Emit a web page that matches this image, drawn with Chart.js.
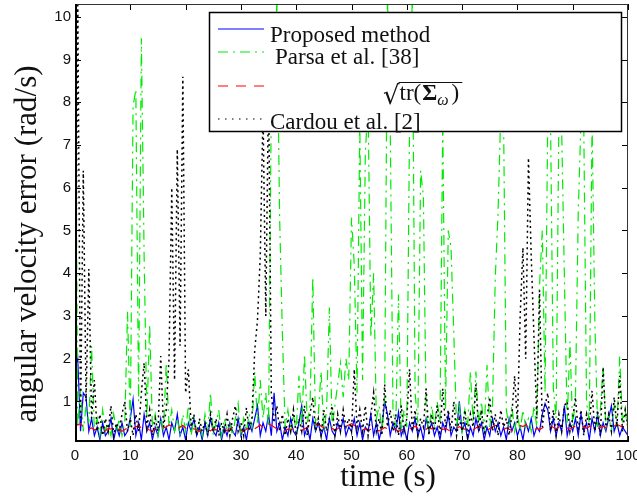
<!DOCTYPE html>
<html>
<head>
<meta charset="utf-8">
<script src="https://cdn.jsdelivr.net/npm/chart.js@4.4.0/dist/chart.umd.min.js"></script>
<style>
  html, body { margin: 0; padding: 0; background: #fff; }
</style>
</head>
<body>
<canvas id="errChart" width="637" height="500"></canvas>
<script>
try {

  // sampling grid of the time axis (s)
  const timeStep = 0.5;
  const times = Array.from({ length: 201 }, (_, i) => i * timeStep);

  // angular velocity error (rad/s), one value per 0.5 s
  const proposedErr = [
    1.7,2.0,0.3,1.2,1.1,0.3,0.6,0.2,0.4,0.1,0.5,0.2,0.3,0.6,0.1,0.4,0.2,0.5,0.2,0.3,
    0.6,1.05,0.2,0.5,0.1,0.7,0.3,0.5,0.1,0.4,0.2,0.6,0.2,0.4,0.1,0.5,0.3,0.7,0.2,0.4,
    0.1,0.5,0.3,0.6,0.2,0.4,0.1,0.5,0.2,0.6,0.3,0.2,0.5,0.1,0.4,0.2,0.5,0.3,0.2,0.6,
    0.2,0.4,0.1,0.5,0.3,0.6,0.9,0.2,0.5,0.3,0.7,0.2,1.2,0.3,0.5,0.1,0.4,0.2,0.6,0.3,
    0.2,0.5,0.9,0.2,0.4,0.1,0.6,0.3,0.5,0.2,0.4,0.1,0.6,0.3,0.2,0.5,0.3,0.6,0.2,0.4,
    0.3,0.6,0.2,0.5,0.1,0.4,0.3,0.7,0.2,0.5,0.1,0.4,1.0,0.7,0.2,0.5,0.3,0.75,0.2,0.4,
    0.1,0.5,0.3,0.6,0.2,0.4,0.1,0.6,0.3,0.5,0.2,0.4,0.1,0.5,0.3,0.7,0.2,0.4,0.3,1.0,
    0.3,0.5,0.1,0.4,0.2,0.6,0.3,0.5,0.1,0.4,0.2,0.6,0.3,0.5,0.2,0.4,0.1,0.6,0.3,0.5,
    0.2,0.4,0.1,0.5,0.3,0.6,0.2,0.4,0.3,0.7,0.95,0.8,0.3,0.6,0.2,0.5,0.3,0.9,0.2,0.5,
    0.3,0.6,0.2,0.7,0.3,0.5,0.1,0.6,0.3,0.7,0.2,0.5,0.3,0.6,0.9,0.3,0.5,0.2,0.4,0.3,
    0.2
  ];

  const parsaErr = [
    10.5,0.4,1.3,0.3,0.9,0.5,2.3,0.3,0.6,0.2,0.8,0.3,0.5,0.2,0.7,0.3,0.6,0.2,0.5,3.1,
    0.4,7.9,8.3,1.0,9.5,4.4,0.6,2.8,0.4,0.7,0.2,0.6,0.3,1.9,0.4,0.8,0.3,0.6,0.2,0.7,
    0.3,0.9,0.2,0.6,0.3,0.5,0.2,0.7,0.3,1.2,0.2,0.5,0.8,0.2,0.6,0.3,0.5,0.2,0.6,0.95,
    0.2,0.6,0.3,0.7,0.4,1.7,0.5,1.5,0.6,1.2,0.4,8.0,7.6,10.5,5.3,2.6,0.4,0.8,0.3,0.7,
    0.3,1.6,0.4,2.1,0.5,0.9,3.9,0.4,0.7,1.7,0.3,0.8,3.2,0.4,0.9,1.4,1.9,1.1,2.0,1.5,
    5.3,4.2,1.2,7.5,1.5,6.8,8.0,2.5,4.0,0.6,0.9,0.3,1.1,10.5,7.5,0.8,0.4,3.5,0.3,0.8,
    0.4,7.5,10.5,1.2,0.5,6.4,5.8,0.7,0.3,0.9,0.4,1.0,0.5,7.6,0.8,5.0,4.6,2.6,0.4,0.9,
    0.3,0.8,0.4,1.7,0.5,1.7,0.4,1.0,0.3,1.85,0.4,0.9,3.9,5.4,7.8,7.6,0.8,0.4,0.9,0.3,
    0.7,0.3,0.8,0.4,0.6,0.3,0.9,0.4,3.7,5.0,1.2,7.8,7.5,1.3,0.6,7.6,7.4,3.9,0.5,2.4,
    0.4,1.1,5.4,7.6,7.5,1.0,0.5,7.6,2.9,0.4,0.8,1.8,0.4,0.7,0.3,0.9,0.4,2.05,0.5,0.8,
    0.3
  ];

  const sigmaBound = [
    0.50,0.45,0.48,0.40,0.42,0.35,0.38,0.33,0.36,0.30,0.34,0.31,0.37,0.35,0.40,0.33,0.36,0.30,0.34,0.38,
    0.42,0.36,0.40,0.44,0.38,0.42,0.35,0.33,0.30,0.36,0.32,0.34,0.38,0.40,0.45,0.42,0.38,0.35,0.40,0.44,
    0.38,0.34,0.31,0.36,0.33,0.30,0.35,0.38,0.34,0.31,0.36,0.33,0.37,0.40,0.35,0.32,0.36,0.39,0.42,0.36,
    0.33,0.30,0.35,0.38,0.42,0.36,0.40,0.45,0.38,0.42,0.48,0.44,0.40,0.36,0.38,0.34,0.31,0.35,0.33,0.37,
    0.40,0.35,0.32,0.36,0.39,0.42,0.38,0.44,0.47,0.42,0.38,0.35,0.40,0.37,0.33,0.36,0.40,0.44,0.41,0.45,
    0.48,0.44,0.40,0.37,0.33,0.36,0.32,0.35,0.38,0.34,0.31,0.35,0.39,0.36,0.33,0.37,0.34,0.30,0.33,0.36,
    0.39,0.35,0.38,0.42,0.37,0.34,0.31,0.35,0.39,0.36,0.40,0.43,0.38,0.34,0.37,0.33,0.30,0.34,0.37,0.41,
    0.38,0.35,0.32,0.36,0.33,0.38,0.42,0.39,0.35,0.32,0.36,0.40,0.44,0.41,0.37,0.34,0.38,0.35,0.32,0.36,
    0.40,0.44,0.41,0.45,0.40,0.36,0.33,0.37,0.34,0.38,0.42,0.46,0.43,0.39,0.36,0.40,0.37,0.34,0.38,0.35,
    0.39,0.42,0.46,0.43,0.40,0.37,0.41,0.44,0.40,0.36,0.39,0.42,0.38,0.41,0.45,0.42,0.46,0.43,0.40,0.44,
    0.42
  ];

  const cardouErr = [
    0.2,10.4,0.5,6.4,1.0,4.1,0.6,1.5,0.3,0.7,0.2,0.6,0.3,0.9,0.2,0.5,0.3,0.7,1.0,0.3,
    0.6,0.2,0.7,0.3,1.2,1.9,0.4,0.8,0.2,0.6,0.3,2.06,0.4,0.8,2.0,6.0,1.5,6.9,2.3,8.6,
    1.2,1.75,0.4,0.7,0.2,0.6,0.3,0.5,0.2,0.7,0.3,0.6,0.2,0.5,0.3,0.7,0.2,0.6,0.9,0.3,
    0.5,0.2,0.85,0.3,0.6,2.2,2.9,4.4,7.8,3.0,8.4,1.2,0.5,0.9,0.3,0.7,0.2,0.6,0.3,0.8,
    0.2,0.6,0.3,0.9,0.2,0.7,1.1,0.3,0.6,0.2,0.8,0.3,0.6,0.9,0.2,0.7,0.3,0.8,0.4,0.6,
    0.3,1.75,0.4,0.8,0.3,0.9,0.2,0.7,1.2,0.3,0.6,0.2,1.4,0.4,0.8,0.3,0.7,0.2,0.9,0.3,
    0.6,1.75,0.3,0.8,0.2,0.6,0.4,1.3,0.2,0.7,0.3,0.9,0.2,1.3,0.4,0.8,0.3,1.0,0.2,0.6,
    0.3,0.8,0.2,0.7,0.4,1.4,0.3,0.8,0.2,0.6,1.1,0.3,0.7,0.2,0.8,0.4,0.6,0.2,0.7,1.6,
    0.5,3.0,4.6,2.0,6.7,4.4,2.5,0.6,3.6,0.4,0.9,1.2,0.3,0.8,0.2,0.7,0.3,0.9,1.0,0.3,
    0.6,1.1,0.3,0.8,0.2,0.7,0.4,1.25,0.3,0.8,0.2,1.8,0.4,0.7,0.3,1.1,0.4,1.6,0.3,0.8,
    0.4
  ];

  const xTickValues = [0, 10, 20, 30, 40, 50, 60, 70, 80, 90, 100];
  const yTickValues = [1, 2, 3, 4, 5, 6, 7, 8, 9, 10];
  const seriesLabels = ['Proposed method', 'Parsa et al. [38]', '\u221Atr(\u03A3\u03C9)', 'Cardou et al. [2]'];
  const seriesColors = ['rgb(0,0,255)', 'rgb(0,235,0)', 'rgb(255,0,0)', '#000'];
  const seriesDashes = [[], [10, 5, 2, 5], [10, 8], [1.5, 5.5]];
  const xTitle = 'time (s)';
  const yTitle = 'angular velocity error (rad/s)';

  const serif = 'Liberation Serif';
  const sans = 'Liberation Sans';

  function toPoints(values) {
    return values.map((v, i) => ({ x: times[i], y: v }));
  }

  // boxed legend drawn over the data, like the matlab one
  const boxLegend = {
    id: 'boxLegend',
    afterDatasetsDraw(chart) {
      const ctx = chart.ctx;
      const a = chart.chartArea;
      const bx = a.left + 134, by = a.top + 8, bw = 413, bh = 120;
      ctx.save();
      ctx.fillStyle = '#fff';
      ctx.fillRect(bx, by, bw, bh);
      ctx.strokeStyle = '#000';
      ctx.lineWidth = 1.5;
      ctx.strokeRect(bx + 0.5, by + 0.5, bw - 1, bh - 1);
      ctx.restore();

      const sampleY = [17, 40, 74, 107];
      const textX = [61, 66, 0, 61];
      const textY = [30, 52, 0, 117];
      seriesLabels.forEach((label, i) => {
        ctx.save();
        ctx.beginPath();
        ctx.setLineDash(seriesDashes[i]);
        ctx.lineWidth = 1.2;
        ctx.strokeStyle = seriesColors[i];
        ctx.moveTo(bx + 9, by + sampleY[i]);
        ctx.lineTo(bx + 55, by + sampleY[i]);
        ctx.stroke();
        ctx.restore();
        if (i !== 2) {
          ctx.save();
          ctx.fillStyle = '#111';
          ctx.textBaseline = 'alphabetic';
          ctx.textAlign = 'left';
          ctx.font = '23px "' + serif + '"';
          ctx.fillText(label, bx + textX[i], by + textY[i]);
          ctx.restore();
        }
      });

      // sqrt(tr(Sigma_omega)) label
      ctx.save();
      ctx.fillStyle = '#111';
      ctx.textBaseline = 'alphabetic';
      ctx.textAlign = 'left';
      let x = bx + 174;
      const base = by + 88;
      ctx.font = '26px "DejaVu Serif"';
      ctx.fillText('\u221A', x, base + 4);
      x += ctx.measureText('\u221A').width;
      const startLine = x;
      ctx.font = '23px "' + serif + '"';
      ctx.fillText('tr(', x, base);
      x += ctx.measureText('tr(').width + 1;
      ctx.font = 'bold 23px "' + serif + '"';
      ctx.fillText('\u03A3', x, base);
      x += ctx.measureText('\u03A3').width;
      ctx.font = 'italic 16px "' + serif + '"';
      ctx.fillText('\u03C9', x, base + 5);
      x += ctx.measureText('\u03C9').width + 3;
      ctx.font = '23px "' + serif + '"';
      ctx.fillText(')', x, base);
      x += ctx.measureText(')').width + 3;
      ctx.beginPath();
      ctx.lineWidth = 1.2;
      ctx.strokeStyle = '#111';
      ctx.moveTo(startLine - 1, base - 17.5);
      ctx.lineTo(x, base - 17.5);
      ctx.stroke();
      ctx.restore();
    }
  };

  // box, inward ticks and axis titles
  const frameAndTitles = {
    id: 'frameAndTitles',
    afterDraw(chart) {
      const ctx = chart.ctx;
      const a = chart.chartArea;
      const xs = chart.scales.x, ys = chart.scales.y;
      ctx.save();
      ctx.strokeStyle = '#000';
      ctx.lineWidth = 1;
      ctx.beginPath();
      xTickValues.forEach(v => {
        const px = Math.round(xs.getPixelForValue(v)) + 0.5;
        ctx.moveTo(px, a.bottom); ctx.lineTo(px, a.bottom - 6);
        ctx.moveTo(px, a.top); ctx.lineTo(px, a.top + 6);
      });
      yTickValues.forEach(v => {
        const py = Math.round(ys.getPixelForValue(v)) + 0.5;
        ctx.moveTo(a.left, py); ctx.lineTo(a.left + 6, py);
        ctx.moveTo(a.right, py); ctx.lineTo(a.right - 6, py);
      });
      ctx.stroke();

      ctx.strokeStyle = '#333';
      ctx.strokeRect(a.left + 0.5, a.top + 0.5, a.right - a.left - 1, a.bottom - a.top - 1);
      ctx.strokeStyle = '#000';
      ctx.lineWidth = 2;
      ctx.beginPath();
      ctx.moveTo(a.left + 1, a.top);
      ctx.lineTo(a.left + 1, a.bottom - 1);
      ctx.lineTo(a.right, a.bottom - 1);
      ctx.stroke();

      ctx.fillStyle = '#111';
      ctx.font = '31px "' + serif + '"';
      ctx.textAlign = 'center';
      ctx.textBaseline = 'alphabetic';
      ctx.fillText(xTitle, 388, 486);
      ctx.translate(36, 244);
      ctx.rotate(-Math.PI / 2);
      ctx.fillText(yTitle, 0, 0);
      ctx.restore();
    }
  };

  const chart = new Chart(document.getElementById('errChart'), {
    type: 'line',
    data: {
      datasets: [
        { label: seriesLabels[0], data: toPoints(proposedErr), borderColor: seriesColors[0], borderWidth: 1.2, order: 4 },
        { label: seriesLabels[1], data: toPoints(parsaErr), borderColor: seriesColors[1], borderWidth: 1.2, borderDash: seriesDashes[1], order: 3 },
        { label: seriesLabels[2], data: toPoints(sigmaBound), borderColor: seriesColors[2], borderWidth: 1.2, borderDash: seriesDashes[2], order: 2 },
        { label: seriesLabels[3], data: toPoints(cardouErr), borderColor: seriesColors[3], borderWidth: 1.5, borderDash: [2, 3.5], order: 1 }
      ]
    },
    options: {
      responsive: false,
      animation: false,
      devicePixelRatio: 1,
      layout: { padding: { left: 0, right: 9, top: 4, bottom: 0 } },
      elements: { point: { radius: 0 }, line: { tension: 0 } },
      plugins: { legend: { display: false }, tooltip: { enabled: false } },
      scales: {
        x: {
          type: 'linear', min: 0, max: 100,
          grid: { display: false, drawTicks: false },
          border: { display: false },
          afterBuildTicks: s => { s.ticks = xTickValues.map(v => ({ value: v })); },
          afterFit: s => { s.height = 58; s.paddingLeft = 0; s.paddingRight = 0; },
          ticks: { font: { family: sans, size: 15 }, color: '#111', padding: 5, maxRotation: 0, autoSkip: false }
        },
        y: {
          type: 'linear', min: 0.05, max: 10.3,
          grid: { display: false, drawTicks: false },
          border: { display: false },
          afterBuildTicks: s => { s.ticks = yTickValues.map(v => ({ value: v })); },
          afterFit: s => { s.width = 75; s.paddingTop = 0; s.paddingBottom = 0; },
          ticks: { font: { family: sans, size: 15 }, color: '#111', padding: 4, autoSkip: false }
        }
      }
    },
    plugins: [boxLegend, frameAndTitles]
  });

} catch (e) {
  console.log(e);
}
</script>
</body>
</html>
